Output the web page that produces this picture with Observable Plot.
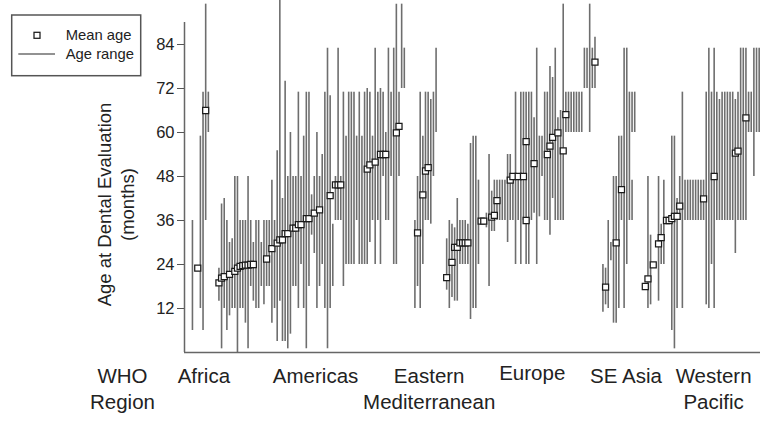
<!DOCTYPE html>
<html>
<head>
<meta charset="utf-8">
<script src="https://cdn.jsdelivr.net/npm/d3@7"></script>
<script src="https://cdn.jsdelivr.net/npm/@observablehq/plot@0.6"></script>
<style>
  html, body { margin: 0; padding: 0; background: #fff; }
  #wrap { position: relative; width: 760px; height: 422px; font-family: "Liberation Sans", Arial, sans-serif; }
  #legend { position: absolute; left: 0; top: 0; }
</style>
</head>
<body>
<div id="wrap">
  <div id="chart"></div>
  <svg id="legend" width="160" height="90"></svg>
</div>
<script>
// Study slot (ordered within WHO region), age range (months) and mean age (months)
const region = [
  "Africa","Africa","Africa","Africa","Africa","Africa",
  "Americas","Americas","Americas","Americas","Americas","Americas","Americas","Americas","Americas","Americas",
  "Americas","Americas","Americas","Americas","Americas","Americas","Americas","Americas","Americas","Americas",
  "Americas","Americas","Americas","Americas","Americas","Americas","Americas","Americas","Americas","Americas",
  "Americas","Americas","Americas","Americas","Americas","Americas","Americas","Americas","Americas","Americas",
  "Americas","Americas","Americas","Americas","Americas","Americas","Americas","Americas","Americas","Americas",
  "Americas","Americas","Americas","Americas","Americas","Americas","Americas","Americas","Americas","Americas",
  "Americas","Americas","Americas","Americas","Americas",
  "Eastern Mediterranean","Eastern Mediterranean","Eastern Mediterranean","Eastern Mediterranean","Eastern Mediterranean",
  "Eastern Mediterranean","Eastern Mediterranean","Eastern Mediterranean","Eastern Mediterranean",
  "Europe","Europe","Europe","Europe","Europe","Europe","Europe","Europe","Europe","Europe",
  "Europe","Europe","Europe","Europe","Europe","Europe","Europe","Europe","Europe","Europe",
  "Europe","Europe","Europe","Europe","Europe","Europe","Europe","Europe","Europe","Europe",
  "Europe","Europe","Europe","Europe","Europe","Europe","Europe","Europe","Europe","Europe",
  "Europe","Europe","Europe","Europe","Europe","Europe","Europe","Europe","Europe","Europe",
  "Europe","Europe","Europe","Europe","Europe","Europe","Europe","Europe",
  "SE Asia","SE Asia","SE Asia","SE Asia","SE Asia","SE Asia","SE Asia","SE Asia","SE Asia","SE Asia",
  "SE Asia","SE Asia","SE Asia","SE Asia",
  "Western Pacific","Western Pacific","Western Pacific","Western Pacific","Western Pacific","Western Pacific",
  "Western Pacific","Western Pacific","Western Pacific","Western Pacific","Western Pacific","Western Pacific",
  "Western Pacific","Western Pacific","Western Pacific","Western Pacific","Western Pacific","Western Pacific",
  "Western Pacific","Western Pacific","Western Pacific","Western Pacific","Western Pacific","Western Pacific",
  "Western Pacific","Western Pacific","Western Pacific","Western Pacific","Western Pacific","Western Pacific",
  "Western Pacific","Western Pacific","Western Pacific","Western Pacific","Western Pacific","Western Pacific",
  "Western Pacific","Western Pacific","Western Pacific","Western Pacific","Western Pacific","Western Pacific",
  "Western Pacific","Western Pacific"
];
const slot = [
  3,5,6,7,8,9,
  13,14,15,16,17,18,19,20,21,22,23,24,25,26,27,28,29,30,31,32,33,34,35,36,37,38,39,40,41,42,43,44,45,46,
  47,48,49,50,51,52,53,54,55,56,57,58,59,60,61,62,63,64,65,66,67,68,69,70,71,72,73,74,75,76,77,78,79,80,
  81,82,83,
  87,88,89,90,91,92,93,94,95,
  99,100,101,102,103,104,105,106,107,108,109,110,111,112,113,114,115,116,117,118,119,120,121,122,123,124,
  125,126,127,128,129,129,130,131,132,133,134,135,136,137,138,139,140,141,142,143,144,145,146,147,148,149,
  150,151,152,153,154,155,
  158,159,160,161,162,163,164,165,166,167,168,169,169,170,
  174,175,176,177,179,180,181,182,183,184,185,186,187,188,189,190,191,192,193,194,195,196,197,198,199,200,
  201,202,203,204,205,206,207,208,209,210,211,212,213,214,215,216,217
];
const lo = [
  6,null,12,6,36,60,
  14,1,12,6,10,12,12,0,12,12,8,1,18,14,12,12,18,13,18,18,8,12,3,14,3,3,1,5,18,18,12,24,12,1,
  18,32,27,12,18,24,12,1,12,18,36,36,36,18,24,24,24,24,36,24,24,24,24,30,36,24,36,24,48,36,36,48,24,24,
  48,72,72,
  12,18,12,24,36,36,35,48,60,
  17,12,15,14,14,24,24,24,24,9,12,12,24,null,null,34,18,33,33,36,36,36,36,30,36,36,
  24,36,24,36,24,null,24,36,38,24,37,48,36,36,32,42,36,36,36,36,60,60,60,60,60,60,
  60,72,72,60,72,72,
  11,13,12,25,8,8,12,36,12,24,36,60,36,60,
  null,12,13,null,14,24,24,null,null,6,1,12,36,12,36,36,36,36,36,36,36,36,13,12,24,12,
  36,36,36,36,36,36,36,27,36,36,36,36,60,60,48,60,60
];
const hi = [
  36,null,59,71,95,71,
  23,40.5,42,36,30,31,48,48,36,36,36,48,36,30,36,36,30,36,36,36,47,36,55,96,42,74,48,60,48,48,71,48,59,71,
  71,43,48,60,48,54,71,83,70,35,48,83,48,71,59,71,71,71,59,71,59,71,72,71,59,83,71,72,71,60,83,71,83,95,
  71,95,83,
  36,48,71,59,71,71,69,71,83,
  31,36,35,34,42,36,36,36,35,57,59,59,47,null,null,38,54,44,47,47,47,47,47,54,54,48,
  71,48,71,71,71,null,71,71,64,83,59,59,71,71,78,75,83,64,66,95,71,71,71,71,71,71,
  71,83,83,95,83,86,
  24,23,36,30,48,48,59,59,83,83,71,71,47,71,
  null,48,32,null,48,35,47,null,null,59,59,42,48,71,47,47,47,47,47,47,47,47,71,83,71,83,
  71,69,71,71,71,71,71,69,71,83,83,83,71,71,83,83,83
];
const mean = [
  null,23,null,null,66,null,
  19,20.3,20.7,null,21.3,null,22.1,23,23.5,23.7,23.8,23.8,24,24,null,null,null,null,25.5,null,28.3,null,29.8,30.7,30.7,32.4,32.4,null,33.9,33.9,34.9,34.9,null,36.5,
  36.5,null,38,null,38.9,null,null,null,42.8,null,45.7,45.7,45.7,null,null,null,null,null,null,null,null,null,50,51.2,null,51.9,null,54,54,54,null,null,null,59.9,
  61.7,null,null,
  null,32.6,null,43,49.5,50.4,null,null,null,
  20.4,null,24.6,28.7,28.7,29.9,29.9,29.9,29.9,null,null,null,null,35.8,35.8,null,null,36.9,37.4,41.4,null,null,null,null,47,48,
  null,48,null,48,57.5,36,null,null,51.5,null,null,null,null,54,56.3,58.7,null,59.9,null,55,64.9,null,null,null,null,null,
  null,null,null,null,null,79.2,
  null,17.8,null,null,null,29.9,null,44.4,null,null,null,null,null,null,
  18,20.1,null,23.9,29.6,31.3,null,36,36,36.5,37.1,37.1,39.9,null,null,null,null,null,null,null,null,41.9,null,null,null,48,
  null,null,null,null,null,null,null,54.4,54.9,null,null,64,null,null,null,null,null
];

// Axis ticks and category labels
const yTicks = [12, 24, 36, 48, 60, 72, 84];
const regionNames = ["Africa", "Americas", "Eastern Mediterranean", "Europe", "SE Asia", "Western Pacific"];
const regionLine1 = ["Africa", "Americas", "Eastern", "Europe", "SE Asia", "Western"];
const regionLine2 = ["", "", "Mediterranean", "", "", "Pacific"];
const regionLabelSlot = [7.3, 49.5, 92.4, 131.3, 166.7, 199.8];

const studies = slot.map((s, i) => ({slot: s, region: region[i], lo: lo[i], hi: hi[i], mean: mean[i]}));
const ranges = studies.filter(d => d.lo != null && d.hi != null);
const means = studies.filter(d => d.mean != null);
const labels = regionNames.map((r, i) => ({region: r, slot: regionLabelSlot[i], l1: regionLine1[i], l2: regionLine2[i]}));
const row1 = labels.filter(d => d.l1 !== "Europe");
const rowEurope = labels.filter(d => d.l1 === "Europe");
const row2 = labels.filter(d => d.l2 !== "");

const font = "Liberation Sans, Arial, sans-serif";

const chart = Plot.plot({
  width: 760,
  height: 422,
  marginLeft: 184,
  marginRight: 0,
  marginTop: 0,
  marginBottom: 70,
  x: {domain: [0, 217.5], axis: null},
  y: {domain: [0, 96], axis: null},
  style: {fontFamily: font, color: "#222", background: "white", overflow: "visible"},
  marks: [
    Plot.ruleX(ranges, {x: "slot", y1: "lo", y2: "hi", stroke: "#6e6e6e", strokeWidth: 1.6}),
    Plot.dot(means, {x: "slot", y: "mean", symbol: "square", r: 3.4, stroke: "#1a1a1a", strokeWidth: 1.25, fill: "white"}),
    Plot.ruleY([0], {stroke: "#666", strokeWidth: 1.5}),
    Plot.ruleX([0], {y1: 0, y2: 90, stroke: "#666", strokeWidth: 1.5}),
    Plot.axisY(yTicks, {tickSize: 7, tickPadding: 3, fontSize: 16.5, label: null, stroke: "#555", fill: "#222"}),
    Plot.text(["Age at Dental Evaluation"], {frameAnchor: "left", textAnchor: "middle", dx: -79, dy: 28, rotate: -90, fontSize: 18.5, fill: "#222"}),
    Plot.text(["(months)"], {frameAnchor: "left", textAnchor: "middle", dx: -56, dy: 28, rotate: -90, fontSize: 18.5, fill: "#222"}),
    Plot.text(["WHO"], {frameAnchor: "bottom-left", textAnchor: "middle", dx: -62, dy: 30, fontSize: 20.5, fill: "#222"}),
    Plot.text(["Region"], {frameAnchor: "bottom-left", textAnchor: "middle", dx: -62, dy: 56.5, fontSize: 20.5, fill: "#222"}),
    Plot.text(row1, {x: "slot", text: "l1", frameAnchor: "bottom", dy: 30, fontSize: 20.5, fill: "#222"}),
    Plot.text(rowEurope, {x: "slot", text: "l1", frameAnchor: "bottom", dy: 27.5, fontSize: 20.5, fill: "#222"}),
    Plot.text(row2, {x: "slot", text: "l2", frameAnchor: "bottom", dy: 56.5, fontSize: 20.5, fill: "#222"})
  ]
});
document.getElementById("chart").appendChild(chart);

// Legend
const lg = d3.select("#legend");
lg.append("rect").attr("x", 11.7).attr("y", 15).attr("width", 129).attr("height", 60.7)
  .attr("fill", "white").attr("stroke", "#555").attr("stroke-width", 1.5);
lg.append("rect").attr("x", 34).attr("y", 32.3).attr("width", 6).attr("height", 6)
  .attr("fill", "white").attr("stroke", "#1a1a1a").attr("stroke-width", 1.25);
lg.append("line").attr("x1", 18.3).attr("x2", 55).attr("y1", 54).attr("y2", 54)
  .attr("stroke", "#6e6e6e").attr("stroke-width", 1.6);
lg.append("text").attr("x", 65.7).attr("y", 40).text("Mean age")
  .attr("font-family", font).attr("font-size", 14.8).attr("fill", "#222");
lg.append("text").attr("x", 65.7).attr("y", 59).text("Age range")
  .attr("font-family", font).attr("font-size", 14.8).attr("fill", "#222");
</script>
</body>
</html>
